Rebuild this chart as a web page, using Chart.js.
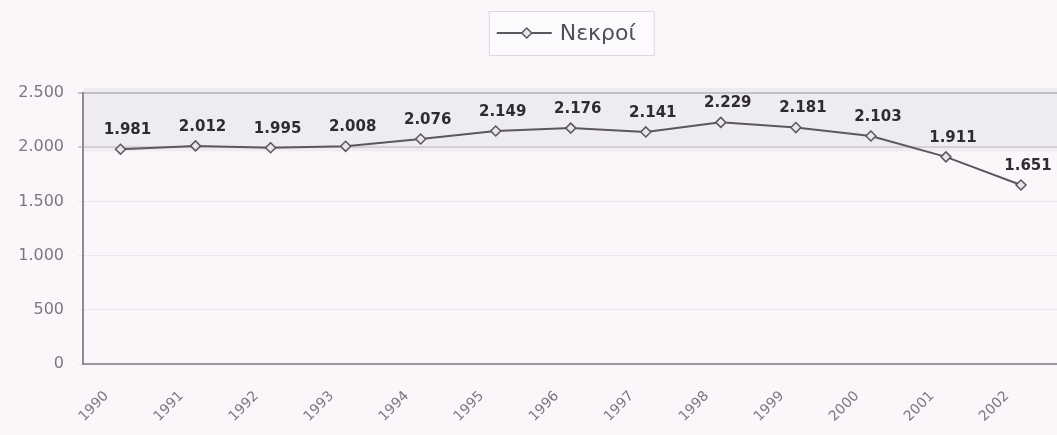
<!DOCTYPE html>
<html>
<head>
<meta charset="utf-8">
<script src="https://cdn.jsdelivr.net/npm/chart.js@4/dist/chart.umd.min.js"></script>
<style>
  html, body { margin: 0; padding: 0; background: #fcf6fb; overflow: hidden; }
  #wrap { width: 1065px; height: 435px; }
</style>
</head>
<body>
<div id="wrap"><canvas id="lineChart" width="1065" height="435"></canvas></div>
<script>
const years = ['1990','1991','1992','1993','1994','1995','1996','1997','1998','1999','2000','2001','2002'];
const deaths = [1981, 2012, 1995, 2008, 2076, 2149, 2176, 2141, 2229, 2181, 2103, 1911, 1651];
const seriesLabel = 'Νεκροί';
const yTicks = [0, 500, 1000, 1500, 2000, 2500];

// 1.981 style thousands separator
const fmt = v => v >= 1000 ? Math.floor(v / 1000) + '.' + String(v % 1000).padStart(3, '0') : String(v);

// page background + shaded band in the upper part of the plot
const bgPlugin = {
  id: 'bg',
  beforeDraw(chart) {
    const { ctx, chartArea: a, scales: { y } } = chart;
    ctx.save();
    ctx.fillStyle = '#fcf6fb';
    ctx.fillRect(0, 0, chart.width, chart.height);
    const top = y.getPixelForValue(2500) - 5, bot = y.getPixelForValue(2000) + 4;
    ctx.fillStyle = '#efecf1';
    ctx.fillRect(a.left, top, a.right - a.left, bot - top);
    ctx.restore();
  }
};

// value labels over each point
const valueLabels = {
  id: 'valueLabels',
  afterDatasetsDraw(chart) {
    const { ctx } = chart;
    const meta = chart.getDatasetMeta(0);
    ctx.save();
    ctx.font = 'bold 15px "DejaVu Sans", sans-serif';
    ctx.fillStyle = '#2e2c30';
    ctx.textAlign = 'center';
    ctx.textBaseline = 'middle';
    meta.data.forEach((pt, i) => {
      ctx.fillText(fmt(deaths[i]), pt.x + 7, pt.y - 19);
    });
    ctx.restore();
  }
};

// boxed legend: line with a diamond, then the series name
const legendBox = {
  id: 'legendBox',
  afterDraw(chart) {
    const { ctx, chartArea: a } = chart;
    const cx = (a.left + a.right) / 2;
    const x0 = cx - 82, y0 = 11, w = 165, h = 44;
    ctx.save();
    ctx.fillStyle = '#fdfafd';
    ctx.fillRect(x0, y0, w, h);
    ctx.strokeStyle = '#dcd8de';
    ctx.lineWidth = 1;
    ctx.strokeRect(x0 + 0.5, y0 + 0.5, w, h);
    const my = y0 + h / 2;
    ctx.strokeStyle = '#5a575d';
    ctx.lineWidth = 2;
    ctx.beginPath();
    ctx.moveTo(x0 + 8, my);
    ctx.lineTo(x0 + 63, my);
    ctx.stroke();
    ctx.fillStyle = '#e9e6ea';
    ctx.lineWidth = 1.5;
    ctx.beginPath();
    ctx.moveTo(x0 + 38, my - 5);
    ctx.lineTo(x0 + 43, my);
    ctx.lineTo(x0 + 38, my + 5);
    ctx.lineTo(x0 + 33, my);
    ctx.closePath();
    ctx.fill();
    ctx.stroke();
    ctx.font = '22px "DejaVu Sans", sans-serif';
    ctx.fillStyle = '#525055';
    ctx.textAlign = 'left';
    ctx.textBaseline = 'middle';
    ctx.fillText(seriesLabel, x0 + 71, my + 1);
    ctx.restore();
  }
};

new Chart(document.getElementById('lineChart').getContext('2d'), {
  type: 'line',
  data: {
    labels: years,
    datasets: [{
      label: seriesLabel,
      data: deaths,
      borderColor: '#5a575d',
      borderWidth: 2,
      pointStyle: 'rectRot',
      pointRadius: 5,
      pointBackgroundColor: '#e9e6ea',
      pointBorderColor: '#5a575d',
      pointBorderWidth: 1.5,
      tension: 0
    }]
  },
  options: {
    responsive: false,
    animation: false,
    layout: { padding: { top: 93, right: 4, left: 0, bottom: 0 } },
    plugins: { legend: { display: false }, tooltip: { enabled: false } },
    scales: {
      x: {
        offset: true,
        grid: { display: false, drawTicks: false },
        border: { color: '#9c98a0', width: 2 },
        ticks: {
          minRotation: 45, maxRotation: 45, padding: 24, labelOffset: -14,
          color: '#7a777e',
          font: { family: '"DejaVu Sans", sans-serif', size: 14 }
        },
        afterFit(scale) { scale.height = 71; }
      },
      y: {
        min: 0, max: 2500,
        afterBuildTicks(scale) { scale.ticks = yTicks.map(v => ({ value: v })); },
        grid: {
          color: ctx => ctx.tick && ctx.tick.value === 2500 ? '#c4c0c8' : (ctx.tick && ctx.tick.value === 2000 ? '#d4d0d7' : '#ebe6ec'),
          lineWidth: ctx => ctx.tick && ctx.tick.value >= 2000 ? 2 : 1,
          drawTicks: true, tickLength: 5
        },
        border: { color: '#8e8a92', width: 2 },
        ticks: {
          color: '#7a777e',
          padding: 14,
          font: { family: '"DejaVu Sans", sans-serif', size: 16 },
          callback: v => fmt(v)
        },
        afterFit(scale) { scale.width = 83; }
      }
    }
  },
  plugins: [bgPlugin, valueLabels, legendBox]
});
</script>
</body>
</html>
